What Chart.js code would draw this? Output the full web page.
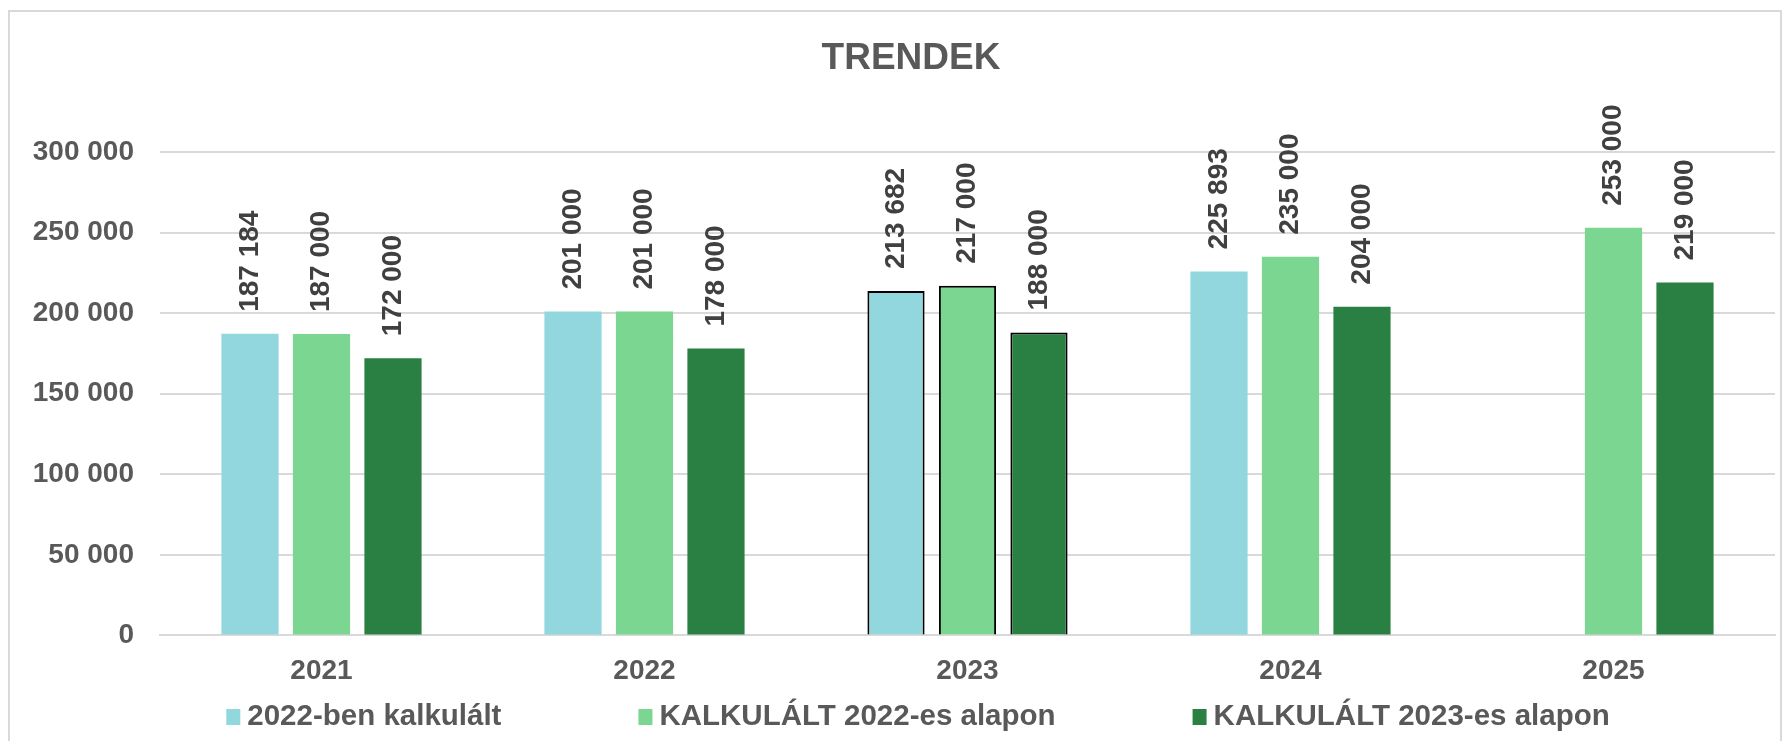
<!DOCTYPE html>
<html>
<head>
<meta charset="utf-8">
<script src="https://cdn.jsdelivr.net/npm/chart.js@4"></script>
<style>
html, body { margin: 0; padding: 0; background: #fff; }
</style>
</head>
<body>
<canvas id="chart" width="1784" height="741"></canvas>
<script>
const years = ['2021', '2022', '2023', '2024', '2025'];
const calc2022 = [187184, 201000, 213682, 225893, null];
const base2022 = [187000, 201000, 217000, 235000, 253000];
const base2023 = [172000, 178000, 188000, 204000, 219000];
const yTicks = [0, 50000, 100000, 150000, 200000, 250000, 300000];
const seriesNames = ['2022-ben kalkulált', 'KALKULÁLT 2022-es alapon', 'KALKULÁLT 2023-es alapon'];
const seriesColors = ['#92D7DE', '#7BD692', '#298042'];
const highlighted = '2023';
const chartTitle = 'TRENDEK';

const FONT = '"Liberation Sans", Arial, sans-serif';

function fmt(v) {
    return String(v).replace(/\B(?=(\d{3})+(?!\d))/g, ' ');
}

function makeSet(label, data, color) {
    return {
        label: label,
        data: data,
        backgroundColor: color,
        borderColor: '#000',
        borderWidth: years.map(y => y === highlighted ? 2 : 0),
        categoryPercentage: 0.664,
        barPercentage: 0.8
    };
}

// white background, light frame and the title
const frame = {
    id: 'frame',
    beforeDraw(chart) {
        const ctx = chart.ctx;
        ctx.save();
        ctx.fillStyle = '#fff';
        ctx.fillRect(0, 0, chart.width, chart.height);
        ctx.strokeStyle = '#d9d9d9';
        ctx.lineWidth = 2;
        ctx.strokeRect(9, 11, chart.width - 12, chart.height);
        ctx.font = 'bold 37px ' + FONT;
        ctx.fillStyle = '#595959';
        ctx.textAlign = 'center';
        ctx.textBaseline = 'middle';
        ctx.fillText(chartTitle, 911, 59);
        ctx.restore();
    }
};

// rotated value labels above every bar
const valueLabels = {
    id: 'valueLabels',
    afterDatasetsDraw(chart) {
        const ctx = chart.ctx;
        ctx.save();
        ctx.font = 'bold 28px ' + FONT;
        ctx.fillStyle = '#404040';
        ctx.textAlign = 'left';
        ctx.textBaseline = 'middle';
        chart.data.datasets.forEach((ds, i) => {
            chart.getDatasetMeta(i).data.forEach((bar, j) => {
                const v = ds.data[j];
                if (v == null) return;
                ctx.save();
                ctx.translate(bar.x, bar.y - 22);
                ctx.rotate(-Math.PI / 2);
                ctx.fillText(fmt(v), 0, 0);
                ctx.restore();
            });
        });
        ctx.restore();
    }
};

// legend in one row under the axis, wide gaps like the original
const bottomLegend = {
    id: 'bottomLegend',
    afterDraw(chart) {
        const ctx = chart.ctx;
        const box = 14, boxGap = 7, itemGap = 137, y = 717, cx = 918;
        ctx.save();
        ctx.font = 'bold 29.5px ' + FONT;
        ctx.textBaseline = 'middle';
        const items = chart.data.datasets.map(ds => ({
            text: ds.label,
            color: ds.backgroundColor,
            w: box + boxGap + ctx.measureText(ds.label).width
        }));
        const total = items.reduce((s, it) => s + it.w, 0) + itemGap * (items.length - 1);
        let x = cx - total / 2;
        items.forEach(it => {
            ctx.fillStyle = it.color;
            ctx.fillRect(x, y - 8, box, 16);
            ctx.fillStyle = '#595959';
            ctx.fillText(it.text, x + box + boxGap, y);
            x += it.w + itemGap;
        });
        ctx.restore();
    }
};

new Chart(document.getElementById('chart'), {
    type: 'bar',
    data: {
        labels: years,
        datasets: [
            makeSet(seriesNames[0], calc2022, seriesColors[0]),
            makeSet(seriesNames[1], base2022, seriesColors[1]),
            makeSet(seriesNames[2], base2023, seriesColors[2])
        ]
    },
    options: {
        responsive: false,
        devicePixelRatio: 1,
        animation: false,
        layout: { padding: { left: 0, right: 9, top: 152, bottom: 34 } },
        scales: {
            x: {
                grid: { display: false, drawTicks: false },
                border: { display: true, color: '#d9d9d9', width: 2 },
                ticks: { color: '#595959', padding: 19, font: { family: FONT, size: 28, weight: 'bold' } }
            },
            y: {
                min: 0,
                max: 300000,
                afterBuildTicks: s => { s.ticks = yTicks.map(v => ({ value: v })); },
                afterFit: s => { s.width = 160; },
                grid: { color: '#d9d9d9', lineWidth: 2, drawTicks: false },
                border: { display: false },
                ticks: {
                    color: '#595959',
                    padding: 26,
                    font: { family: FONT, size: 28, weight: 'bold' },
                    callback: v => fmt(v)
                }
            }
        },
        plugins: {
            legend: { display: false },
            tooltip: { enabled: false },
            title: { display: false }
        }
    },
    plugins: [frame, valueLabels, bottomLegend]
});
</script>
</body>
</html>
